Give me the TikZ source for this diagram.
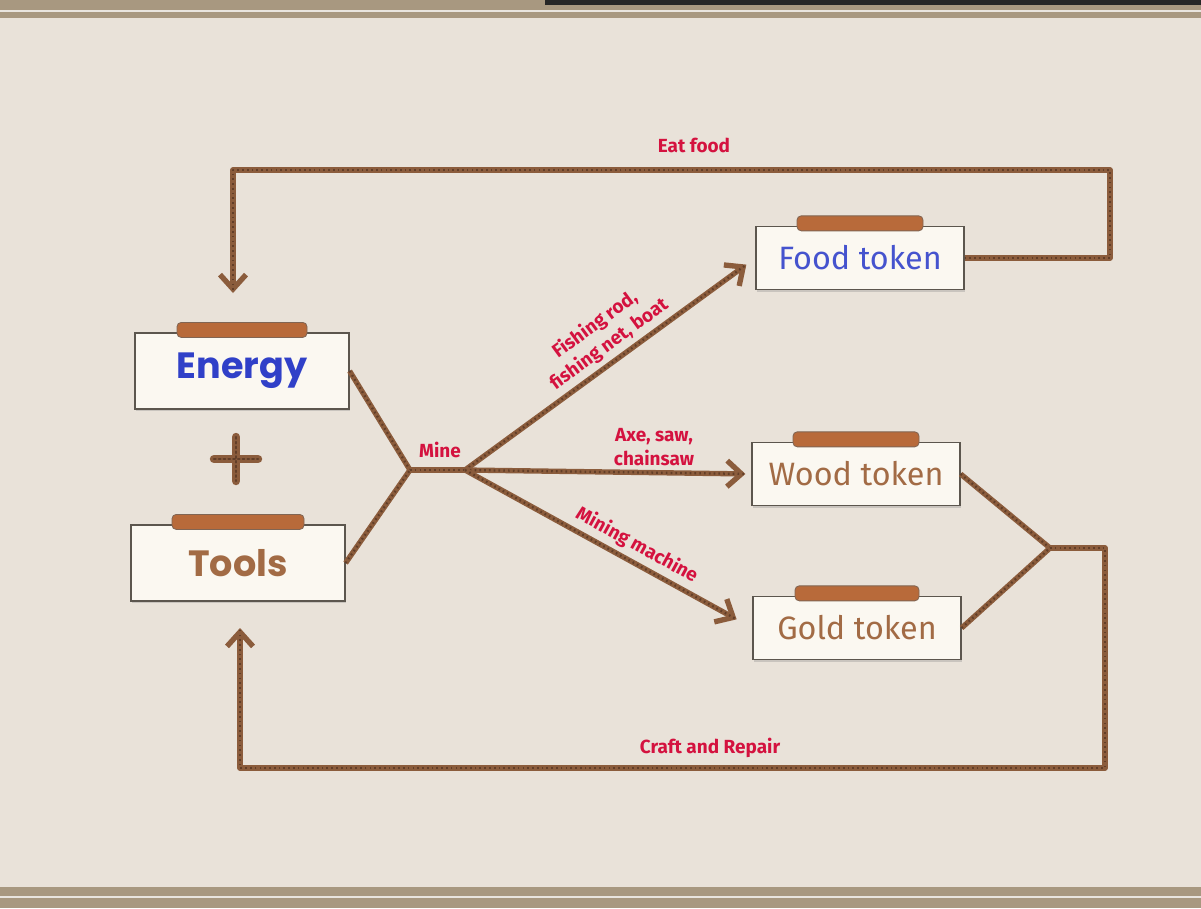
\documentclass[tikz,border=0pt]{standalone}
\usepackage{fontspec}
\setmainfont{Fira Sans}
\newfontfamily\headfont{Poppins}
\usepackage{tikz}
\usetikzlibrary{arrows.meta,positioning,calc,shadows}
\definecolor{paper}{RGB}{233,226,217}
\definecolor{paperedge}{RGB}{168,152,128}
\definecolor{rope}{RGB}{139,92,60}
\definecolor{ropedark}{RGB}{98,62,40}
\definecolor{cardfill}{RGB}{251,248,241}
\definecolor{cardline}{RGB}{92,86,78}
\definecolor{barbrown}{RGB}{184,106,58}
\definecolor{labelred}{RGB}{212,18,63}
\definecolor{energyblue}{RGB}{48,64,200}
\definecolor{tokenbrown}{RGB}{162,107,69}

\tikzset{
  card/.style={draw=cardline, line width=0.8pt, fill=cardfill, minimum width=5.35cm, minimum height=1.9cm, inner sep=0pt, drop shadow={shadow xshift=1pt, shadow yshift=-1.5pt, opacity=0.3}},
  tokencard/.style={card, minimum width=5.2cm, minimum height=1.58cm},
  rope/.style={draw=rope, line width=3.8pt, line join=round, postaction={draw=ropedark, line width=1.6pt, dash pattern=on 1.2pt off 2.2pt, -}},
  ropearrow/.style={rope, -{Straight Barb[length=3.6mm, width=6.5mm]}},
  steplabel/.style={text=labelred, font=\bfseries\fontsize{13.5}{17}\selectfont, align=center, inner sep=2pt}
}

\begin{document}
\begin{tikzpicture}[x=0.025cm, y=-0.025cm]
% paper and frame
\fill[paper] (0,0) rectangle (1201,908);
\useasboundingbox (0,0) rectangle (1201,908);
\fill[paperedge] (0,0) rectangle (1201,18);
\fill[black!85] (545,0) rectangle (1201,5);
\fill[paperedge] (0,887) rectangle (1201,908);
\draw[white!75!paperedge, line width=0.8pt] (0,11) -- (1201,11) (0,897) -- (1201,897);

% cards
\node[card, text=energyblue, font=\headfont\bfseries\fontsize{26}{30}\selectfont] (energy) at (242,371) {Energy};
\node[card, text=tokenbrown, font=\headfont\bfseries\fontsize{26}{30}\selectfont] (tools) at (238,563) {Tools};
\node[tokencard, text=energyblue!90!white, font=\fontsize{23}{27}\selectfont] (food) at (860,258) {Food token};
\node[tokencard, text=tokenbrown, font=\fontsize{23}{27}\selectfont] (wood) at (856,474) {Wood token};
\node[tokencard, text=tokenbrown, font=\fontsize{23}{27}\selectfont] (gold) at (857,628) {Gold token};
\foreach \n/\w in {energy/65,tools/66,food/63,wood/63,gold/62}
  \fill[barbrown, draw=ropedark!80, line width=0.6pt, rounded corners=3pt] ($(\n.north)+(-\w,-10)$) rectangle ($(\n.north)+(\w,5)$);

% plus
\draw[rope, line width=6pt, line cap=round] (214,459) -- (258,459) (236,437) -- (236,481);

% junctions
\coordinate (mine) at (410,470);
\coordinate (hub) at (465,470);
\coordinate (merge) at (1050,548);
\coordinate (eatcorner) at (1110,170);
\coordinate (eatend) at (233,293);
\coordinate (craftcorner) at (1105,768);
\coordinate (craftend) at (240,628);

% mine
\draw[rope] (energy.east) -- (mine);
\draw[rope] (tools.east) -- (mine);
\draw[rope] (mine) -- (hub);
\node[steplabel] (minelabel) at (440,450) {Mine};
\draw[ropearrow, shorten >=0.28cm] (hub) -- (food.west)
  node[steplabel, pos=0.53, sloped, above=1pt] (fishlabel) {Fishing rod,\\fishing net, boat};
\draw[ropearrow, shorten >=0.15cm] (hub) -- (wood.west)
  node[steplabel, pos=0.66, above=1pt] (axelabel) {Axe, saw,\\chainsaw};
\draw[ropearrow, shorten >=0.45cm] (hub) -- (gold.west)
  node[steplabel, pos=0.57, sloped, above=1pt] (machinelabel) {Mining machine};

% eat food
\draw[ropearrow] (food.east) -| (eatcorner) -| (eatend);
\node[steplabel] (eatlabel) at (694,145) {Eat food};

% craft and repair
\draw[rope] (wood.east) -- (merge);
\draw[rope] (gold.east) -- (merge);
\draw[ropearrow] (merge) -| (craftcorner) -| (craftend);
\node[steplabel] (craftlabel) at (710,748) {Craft and Repair};
\end{tikzpicture}
\end{document}
